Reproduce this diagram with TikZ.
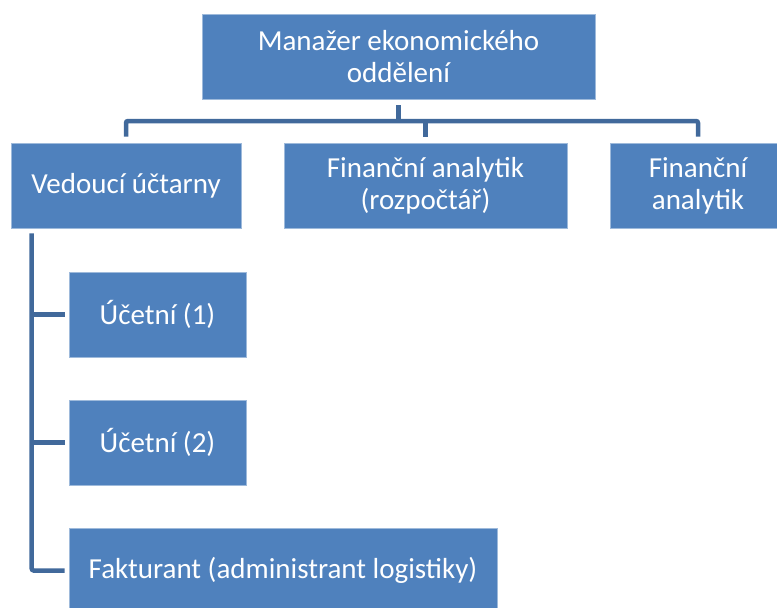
\documentclass[tikz,border=0pt]{standalone}
\usepackage{fontspec}
\setmainfont{Carlito}
\usepackage{tikz}
\definecolor{boxblue}{HTML}{4F81BD}
\definecolor{linkblue}{HTML}{41699B}
\tikzset{
	unit/.style={rectangle, fill=boxblue, draw=boxblue!55!white, line width=0.6pt,
		text=white, align=center, inner sep=0pt, minimum height=85pt,
		font=\fontsize{29}{32}\selectfont},
	conn/.style={draw=linkblue, line width=4.5pt, rounded corners=2pt}
}

\begin{document}
\begin{tikzpicture}[x=1pt, y=-1pt]
		\useasboundingbox (0,0) rectangle (777,608);
		\node[unit, minimum width=393pt] (MAN) at (398.5,56.5) {Manažer ekonomického\\oddělení};
		\node[unit, minimum width=230pt] (VED) at (126,185.5) {Vedoucí účtarny};
		\node[unit, minimum width=283pt] (FINR) at (425.5,185.5) {Finanční analytik\\(rozpočtář)};
		\node[unit, minimum width=176pt] (FIN) at (698,185.5) {Finanční\\analytik};
		\node[unit, minimum width=177pt] (UC1) at (157.5,314.5) {Účetní (1)};
		\node[unit, minimum width=177pt] (UC2) at (157.5,442.5) {Účetní (2)};
		\node[unit, minimum width=428pt] (FAK) at (283,570.5) {Fakturant (administrant logistiky)};
		% upper level
		\coordinate (bus) at (0,121);
		\draw[conn] ([yshift=-6pt]MAN.south) -- (MAN.south |- bus);
		\draw[conn] ([yshift=6pt]VED.north) |- (bus -| FIN.north) -- ([yshift=6pt]FIN.north);
		\draw[conn] (FINR.north |- bus) -- ([yshift=6pt]FINR.north);
		% accounting
		\coordinate (spine) at ([xshift=21pt, yshift=-5pt]VED.south west);
		\draw[conn] (spine) |- ([xshift=-4pt]FAK.west);
		\draw[conn] (spine |- UC1.west) -- ([xshift=-4pt]UC1.west);
		\draw[conn] (spine |- UC2.west) -- ([xshift=-4pt]UC2.west);
	\end{tikzpicture}
\end{document}
